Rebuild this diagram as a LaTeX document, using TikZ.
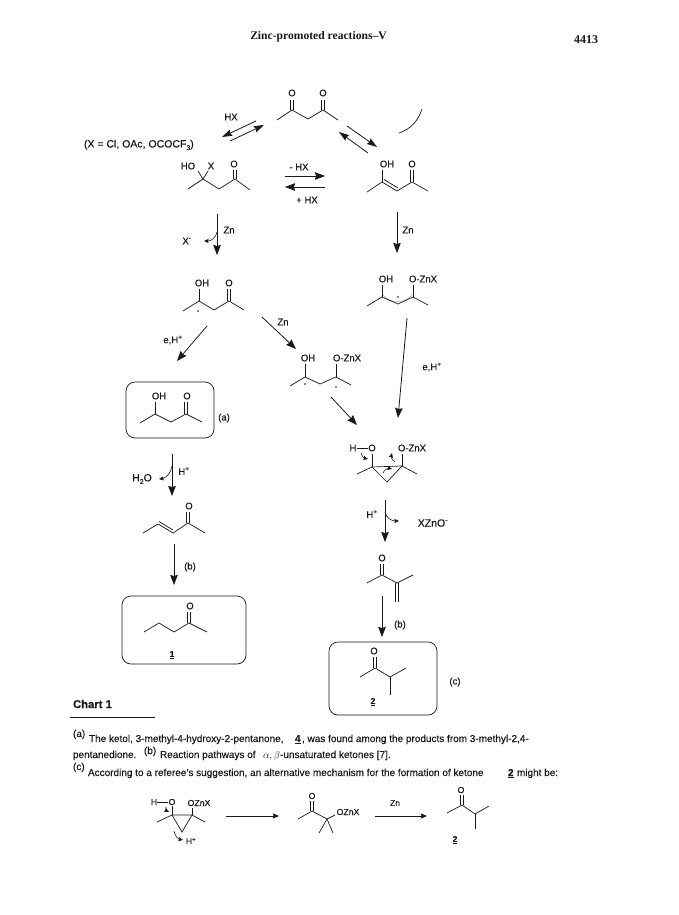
\documentclass[tikz,border=0pt]{standalone}
\usepackage{fontspec}
\setmainfont{Liberation Sans}[FakeBold=0.25]
\newfontfamily\hdr{Liberation Serif}
\usetikzlibrary{arrows.meta}
\definecolor{ink}{gray}{0.1}
\tikzset{
  x=1pt,y=-1pt,
  every node/.style={inner sep=0pt,outer sep=0pt,text=ink},
  bond/.style={draw=ink,line width=0.7pt,line join=miter},
  rxn/.style={draw=ink,line width=0.8pt,-{Stealth[length=10pt,width=7.5pt,inset=1pt]}},
  thinrxn/.style={draw=ink,line width=0.8pt,-{Stealth[length=6pt,width=5pt,inset=0.5pt]}},
  eqm/.style={draw=ink,line width=0.8pt,-{Stealth[length=10pt,width=6.5pt,inset=1pt]}},
  flick/.style={draw=ink,line width=0.6pt,-{Stealth[length=4.5pt,width=4pt,inset=0.5pt]}},
  lbl/.style={font=\fontsize{9.5}{11}\selectfont},
  atom/.style={font=\fontsize{9.5}{11}\selectfont,fill=white,inner sep=0.3pt},
  small atom/.style={atom,font=\fontsize{8.7}{10}\selectfont},
  note/.style={font=\fontsize{10}{11}\selectfont,anchor=base west},
  notebf/.style={note,font=\bfseries\fontsize{10}{11}\selectfont},
  boxed/.style={draw=ink,line width=0.7pt,rounded corners=9pt}
}
\newcommand{\Bd}[1]{\draw[bond] #1;}
% vertical double bond: x, y top, y bottom
\newcommand{\Vd}[3]{\draw[bond] (#1-1.3,#2) -- (#1-1.3,#3) (#1+1.3,#2) -- (#1+1.3,#3);}
\newcommand{\Rx}[4][rxn]{\coordinate (#2a) at (#3); \coordinate (#2b) at (#4); \draw[#1] (#2a) -- (#2b);}
\newcommand{\Sp}[1]{\textsuperscript{#1}}
\newcommand{\Sb}[1]{\raisebox{-0.25em}{\scriptsize #1}}
\begin{document}
\begin{tikzpicture}
\useasboundingbox (0,0) rectangle (679,915);
\fill[white] (0,0) rectangle (679,915);

% header
\node[font=\hdr\bfseries\fontsize{11.6}{13}\selectfont] (head) at (318.5,37) {Zinc-promoted reactions–V};
\node[font=\hdr\bfseries\fontsize{12}{13}\selectfont] (page) at (586,40) {4413};

% diketone
\Bd{(277,120)--(292,110)--(308,119)--(323,110)--(338,120)}
\Vd{292}{100}{110}\Vd{323}{100}{110}
\node[atom] (d1) at (292,93) {O};
\node[atom] (d2) at (323,93) {O};

% equilibria
\Rx[eqm]{e1}{256,121}{222,137}
\Rx[eqm]{e2}{230,141}{264,125}
\Rx[eqm]{e3}{347,126}{377,147}
\Rx[eqm]{e4}{368,153}{339,132}
\node[lbl] (hx) at (231,117) {HX};
\coordinate (c1) at (422,109); \coordinate (c2) at (399,133);
\draw[bond] (c1) .. controls (418,121) and (411,129) .. (c2);
\node[lbl,font=\fontsize{10.5}{12}\selectfont,anchor=west] (xeq) at (84,145) {(X = Cl, OAc, OCOCF\Sb{3})};

% ketol with X
\Bd{(188,189)--(203,179)--(219,189)--(235,179)--(250,190)}
\Bd{(203,179)--(198,171)}\Bd{(203,179)--(208,171)}
\Vd{235}{170}{179}
\node[atom] (k1) at (188,166) {HO};
\node[atom] (k2) at (211,166) {X};
\node[atom] (k3) at (234,164) {O};

% enol
\Bd{(367,192)--(382,182)--(397,191)--(412,182)--(428,191)}
\Bd{(384,179.5)--(398,188)}
\Bd{(382,182)--(382,170)}
\Vd{412}{170}{182}
\node[atom] (n1) at (387,164) {OH};
\node[atom] (n2) at (412,164) {O};

\Rx{h1}{285,176}{325,176}
\Rx{h2}{325,187}{285,187}
\node[lbl] (h1l) at (299,167) {- HX};
\node[lbl] (h2l) at (307,200) {+ HX};

\Rx{z1}{217,214}{217,255}
\node[lbl] (z1l) at (229,230) {Zn};
\node[lbl] (xm) at (187,241) {X\Sp{-}};
\coordinate (z1c) at (217,232); \coordinate (z1d) at (204,241);
\draw[flick] (z1c) .. controls (216,238) and (211,241) .. (z1d);
\Rx{z2}{397,212}{397,253}
\node[lbl] (z2l) at (408,230) {Zn};

% left radical
\Bd{(183,311)--(199,301)--(214,310)--(229,301)--(244,310)}
\Bd{(199,301)--(199,289)}
\Vd{229}{289}{301}
\node[atom] (r1) at (202,283) {OH};
\node[atom] (r2) at (229,283) {O};
\fill[ink] (198,311) circle (0.8);

\Rx{p1}{207,326}{177,361}
\node[lbl] (p1l) at (173,340) {e,H\Sp{+}};
\Rx{p2}{262,317}{296,349}
\node[lbl] (p2l) at (283,322) {Zn};

% mid biradical
\Bd{(290,386)--(305,377)--(320,384)--(336,377)--(351,385)}
\Bd{(305,377)--(305,364)}\Bd{(336,377)--(336,364)}
\node[atom] (m1) at (308,358) {OH};
\node[atom] (m2) at (347,358) {O-ZnX};
\fill[ink] (305,384) circle (0.8) (336,387) circle (0.8);
\Rx{p3}{331,397}{357,425}

% right radical
\draw[gray!70,line width=0.5pt] (383,295) .. controls (390,304) and (405,304) .. (412,295);
\Bd{(367,306)--(382,297)--(398,304)--(413,297)--(428,305)}
\Bd{(382,297)--(382,285)}\Bd{(413,297)--(413,285)}
\node[atom] (q1) at (386,279) {OH};
\node[atom] (q2) at (423,279) {O-ZnX};
\fill[ink] (398,297) circle (0.8);
\Rx{p4}{407,318}{398,418}
\node[lbl] (p4l) at (432,367) {e,H\Sp{+}};

% boxed ketol
\node[boxed,minimum width=88pt,minimum height=56pt] (ba) at (170,410) {};
\Bd{(140,423)--(155,414)--(171,422)--(186,414)--(202,422)}
\Bd{(155,414)--(155,402)}
\Vd{186}{402}{414}
\node[atom] (b1) at (159,396) {OH};
\node[atom] (b2) at (187,396) {O};
\node[lbl] (al) at (224,418) {(a)};

% dehydration
\Rx{w1}{172,454}{172,496}
\node[lbl] (w1l) at (184,471) {H\Sp{+}};
\node[lbl,font=\fontsize{10.5}{12}\selectfont] (w2l) at (142,479) {H\Sb{2}O};
\coordinate (w1c) at (172,466); \coordinate (w1d) at (159,479);
\draw[flick] (w1c) .. controls (171,473) and (166,478) .. (w1d);

% enone
\Bd{(143,533)--(158,524)--(173,533)--(188,523)--(205,533)}
\Bd{(159,521.5)--(173,530)}
\Vd{188}{512}{523}
\node[atom] (en) at (189,506) {O};
\Rx{w3}{174,544}{174,585}
\node[lbl] (w3l) at (190,567) {(b)};

% boxed 1
\node[boxed,minimum width=124pt,minimum height=68pt] (b1x) at (184,630) {};
\Bd{(144,632)--(159,623)--(174,632)--(189,623)--(207,632)}
\Vd{189}{612}{623}
\node[atom] (o1) at (190,606) {O};
\node[font=\bfseries\fontsize{8.5}{10}\selectfont] (n1x) at (172,655) {\underline{1}};

% cyclopropane
\Bd{(357,474)--(372,467)--(402,466)--(417,474)}
\Bd{(372,467)--(387,482)--(402,466)}
\Bd{(372,467)--(372,454)}\Bd{(402,466)--(402,454)}
\node[atom] (c3a) at (353,448) {H};
\node[atom] (c3b) at (372,448) {O};
\node[atom] (c3c) at (412,448) {O-ZnX};
\Bd{(c3a.east)--(c3b.west)}
\coordinate (f1a) at (361,453); \coordinate (f1b) at (368,459);
\draw[flick] (f1a) .. controls (361,456) and (364,458) .. (f1b);
\coordinate (f2a) at (395,462); \coordinate (f2b) at (392,453);
\draw[flick] (f2a) .. controls (392,460) and (391,457) .. (f2b);
\coordinate (f3a) at (383,473); \coordinate (f3b) at (392,469);
\draw[flick] (f3a) .. controls (384,470) and (388,468) .. (f3b);

\Rx{t1}{385,500}{385,542}
\node[lbl] (t1l) at (372,514) {H\Sp{+}};
\node[lbl,font=\fontsize{10.5}{12}\selectfont] (t2l) at (433,523) {XZnO\Sp{-}};
\coordinate (t1c) at (385,512); \coordinate (t1d) at (399,521);
\draw[flick] (t1c) .. controls (386,518) and (392,521) .. (t1d);

% methyl vinyl ketone
\Bd{(367,583)--(382,575)--(397,583)--(413,575)}
\Vd{382}{564}{575}
\Vd{397}{583}{602}
\node[atom] (o2) at (382,558) {O};
\Rx{t3}{382,596}{382,637}
\node[lbl] (t3l) at (400,625) {(b)};

% boxed 2
\node[boxed,minimum width=108pt,minimum height=73pt] (b2x) at (383,678.5) {};
\Bd{(360,677)--(375,668)--(390,677)--(406,668)}
\Bd{(390,677)--(390,695)}
\Vd{375}{657}{668}
\node[atom] (o3) at (374,651) {O};
\node[font=\bfseries\fontsize{8.5}{10}\selectfont] (n2x) at (373,702) {\underline{2}};
\node[lbl] (cl) at (455,682) {(c)};

% Chart label
\node[font=\bfseries\fontsize{11.3}{12}\selectfont] (chart) at (92.5,704) {Chart 1};
\coordinate (ra) at (70,717); \coordinate (rb) at (155,717);
\draw[ink,line width=0.6pt] (ra) -- (rb);

% notes
\node[note] (a0) at (73,737) {(a)};
\node[note] (a1) at (89,742) {The ketol, 3-methyl-4-hydroxy-2-pentanone,};
\node[notebf] (a2) at (295,742) {\underline{4}};
\node[note] (a3) at (302,742) {, was found among the products from 3-methyl-2,4-};
\node[note] (b0) at (73,758) {pentanedione.};
\node[note] (b1n) at (144,754) {(b)};
\node[note] (b2n) at (160,758) {Reaction pathways of};
\node[note] (b3n) at (263,758) {$\alpha,\beta$-unsaturated ketones [7].};
\node[note] (c0) at (73,770) {(c)};
\node[note] (c1) at (88,776) {According to a referee's suggestion, an alternative mechanism for the formation of ketone};
\node[notebf] (c2) at (508,776) {\underline{2}};
\node[note] (c3) at (517,776) {might be:};

% bottom scheme
\Bd{(157,822)--(172,815)--(192,815)--(205,822)}
\Bd{(172,815)--(182,832)--(192,815)}
\Bd{(172,815)--(172,806)}\Bd{(192,815)--(192,808)}
\node[small atom] (s1) at (154,802) {H};
\node[small atom] (s2) at (172,802) {O};
\node[small atom] (s3) at (199,803) {OZnX};
\Bd{(s1.east)--(s2.west)}
\node[lbl,font=\fontsize{8.5}{10}\selectfont] (s4) at (191,841) {H\Sp{+}};
\coordinate (g1a) at (166,807); \coordinate (g1b) at (169,812);
\draw[flick] (g1a) .. controls (165,809) and (167,811) .. (g1b);
\coordinate (g2a) at (174,831); \coordinate (g2b) at (183,840);
\draw[flick] (g2a) .. controls (175,836) and (178,839) .. (g2b);
\Rx[thinrxn]{v1}{226,816}{279,816}

\Bd{(298,819)--(312,811)--(327,819)--(335,815)}
\Bd{(327,819)--(319,833)}\Bd{(327,819)--(333,833)}
\Vd{312}{801}{811}
\node[small atom] (s5) at (312,796) {O};
\node[small atom] (s6) at (348,812) {OZnX};
\Rx[thinrxn]{v2}{375,816}{427,816}
\node[lbl,font=\fontsize{8.5}{10}\selectfont] (v2l) at (395,803) {Zn};

\Bd{(447,813)--(462,805)--(475,814)--(489,806)}
\Bd{(475,814)--(475,829)}
\Vd{462}{795}{805}
\node[small atom] (s7) at (461,790) {O};
\node[font=\bfseries\fontsize{8.5}{10}\selectfont] (s8) at (455,840) {\underline{2}};
\end{tikzpicture}
\end{document}
